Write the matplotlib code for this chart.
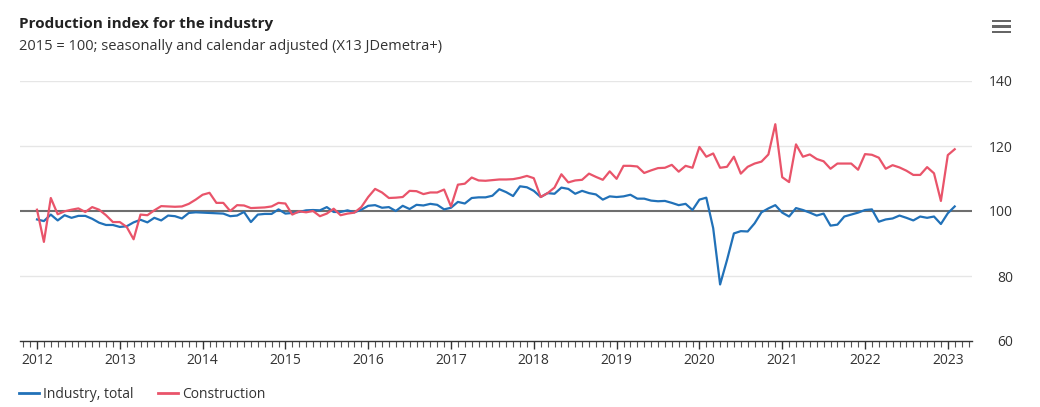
import numpy as np
import matplotlib.pyplot as plt
from matplotlib.ticker import MultipleLocator, FixedLocator
from matplotlib.lines import Line2D
from matplotlib.patches import Rectangle

plt.rcParams['font.family'] = ['Open Sans', 'DejaVu Sans']

# monthly values, Jan 2012 - Feb 2023
start_year = 2012
industry = [
    97.4, 96.9, 98.9, 97.1, 98.7, 97.9, 98.5, 98.5, 97.6, 96.4, 95.7, 95.7,
    95.1, 95.3, 96.5, 97.3, 96.5, 97.9, 97.1, 98.6, 98.4, 97.7, 99.4, 99.6,
    99.5, 99.4, 99.3, 99.2, 98.4, 98.6, 99.7, 96.6, 98.9, 99.1, 99.1, 100.5,
    99.2, 99.4, 99.7, 100.2, 100.3, 100.2, 101.2, 99.7, 99.7, 100.2, 99.6, 100.4,
    101.6, 101.8, 101.0, 101.2, 100.0, 101.6, 100.6, 101.9, 101.7, 102.2, 101.9, 100.5,
    101.0, 102.8, 102.3, 104.0, 104.2, 104.2, 104.7, 106.7, 105.8, 104.6, 107.6, 107.3,
    106.2, 104.3, 105.5, 105.3, 107.2, 106.8, 105.3, 106.2, 105.5, 105.1, 103.5, 104.5,
    104.3, 104.5, 105.0, 103.8, 103.8, 103.2, 103.0, 103.1, 102.5, 101.8, 102.2, 100.3,
    103.5, 104.1, 94.7, 77.4, 84.9, 93.1, 93.8, 93.7, 96.2, 99.6, 100.8, 101.8,
    99.5, 98.3, 100.9, 100.3, 99.5, 98.6, 99.2, 95.5, 95.8, 98.3, 98.9, 99.5,
    100.3, 100.5, 96.7, 97.4, 97.7, 98.6, 97.9, 97.1, 98.3, 97.9, 98.3, 96.0,
    99.3, 101.4,
]
construction = [
    100.4, 90.5, 104.0, 99.0, 99.9, 100.4, 100.8, 99.7, 101.2, 100.4, 98.7, 96.6,
    96.6, 95.1, 91.3, 98.9, 98.7, 100.2, 101.5, 101.4, 101.3, 101.4, 102.2, 103.5,
    105.0, 105.6, 102.5, 102.5, 100.0, 101.8, 101.7, 100.9, 101.0, 101.1, 101.4, 102.5,
    102.3, 98.9, 99.9, 99.6, 100.0, 98.4, 99.2, 100.7, 98.7, 99.2, 99.5, 101.2,
    104.3, 106.8, 105.7, 104.0, 104.1, 104.3, 106.2, 106.1, 105.2, 105.7, 105.7, 106.6,
    101.4, 108.1, 108.4, 110.3, 109.4, 109.3, 109.5, 109.7, 109.7, 109.8, 110.2, 110.8,
    110.1, 104.3, 105.5, 107.2, 111.3, 108.8, 109.4, 109.6, 111.5, 110.5, 109.6, 112.2,
    109.9, 113.9, 113.9, 113.7, 111.7, 112.5, 113.2, 113.3, 114.2, 112.1, 113.9, 113.3,
    119.7, 116.7, 117.7, 113.3, 113.6, 116.7, 111.5, 113.6, 114.6, 115.2, 117.4, 126.7,
    110.4, 108.9, 120.5, 116.7, 117.4, 116.0, 115.3, 113.0, 114.6, 114.6, 114.6, 112.7,
    117.5, 117.3, 116.4, 113.0, 114.1, 113.4, 112.4, 111.1, 111.1, 113.5, 111.6, 103.1,
    117.2, 119.0,
]
series_names = ['Industry, total', 'Construction']
years = list(range(2012, 2024))
y_ticks = [60, 80, 100, 120, 140]

t = start_year + np.arange(len(industry)) / 12.0

fig = plt.figure(figsize=(10.4, 4.07), dpi=100)
ax = fig.add_axes([20 / 1040, 1 - 341 / 407, 952 / 1040, 260 / 407])

blue = '#2171b8'
red = '#e9546a'

for v in [80, 120, 140]:
    ax.axhline(v, color='#e6e6e6', lw=1, zorder=1)
ax.axhline(100, color='#6e6e6e', lw=1.5, zorder=2)

ax.plot(t, industry, color=blue, lw=1.6, zorder=3, solid_joinstyle='round')
ax.plot(t, construction, color=red, lw=1.6, zorder=3, solid_joinstyle='round')

ax.set_xlim(2012 - 17 / 82.8, 2012 + 935 / 82.8)
ax.set_ylim(60, 140)

for s in ['top', 'left', 'right']:
    ax.spines[s].set_visible(False)
ax.spines['bottom'].set_color('#333333')
ax.spines['bottom'].set_linewidth(1)

ax.xaxis.set_major_locator(FixedLocator(years))
ax.xaxis.set_minor_locator(MultipleLocator(1 / 12))
ax.set_xticklabels([str(y) for y in years])
ax.tick_params(axis='x', which='major', length=6, width=1, color='#333333',
               labelsize=10, labelcolor='#333333', pad=3)
ax.tick_params(axis='x', which='minor', length=4, width=0.8, color='#555555')

ax.yaxis.tick_right()
ax.set_yticks(y_ticks)
ax.set_yticklabels([str(v) for v in y_ticks], ha='right')
ax.tick_params(axis='y', length=0, labelsize=10, labelcolor='#333333', pad=29.5)

fig.text(19 / 1040, 1 - 24 / 407, 'Production index for the industry', fontsize=11,
         fontweight='bold', color='#222222', va='center', ha='left')
fig.text(19 / 1040, 1 - 46 / 407, '2015 = 100; seasonally and calendar adjusted (X13 JDemetra+)',
         fontsize=10.5, color='#333333', va='center', ha='left')

# menu icon
for yy in [21, 26.5, 32]:
    fig.add_artist(Rectangle((992 / 1040, 1 - (yy + 1.3) / 407), 19 / 1040, 2.6 / 407,
                             transform=fig.transFigure, color='#666666', lw=0))

handles = [Line2D([], [], color=blue, lw=2), Line2D([], [], color=red, lw=2)]
fig.legend(handles, series_names, loc='center left', bbox_to_anchor=(19 / 1040, 1 - 394 / 407),
           frameon=False, ncol=2, fontsize=10, handlelength=1.45, handletextpad=0.3,
           columnspacing=1.75, borderpad=0, borderaxespad=0, labelcolor='#333333')

fig.savefig('out.png', dpi=100)
